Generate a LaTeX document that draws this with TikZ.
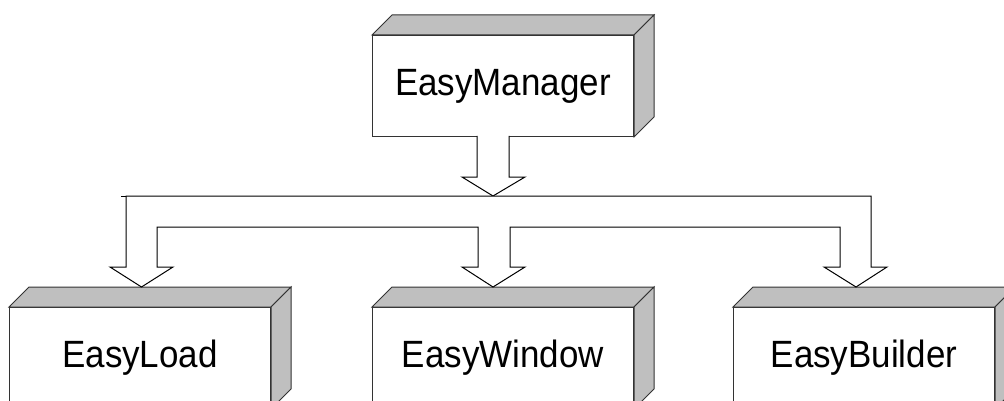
\documentclass[tikz,border=0pt]{standalone}
\usepackage{fontspec}
\setmainfont{Liberation Sans}
\usetikzlibrary{calc}
\tikzset{
  frontbox/.style={draw=black!80, fill=white, line width=1pt, rectangle, minimum width=261pt, minimum height=101pt, inner sep=0pt, anchor=north west, font=\fontsize{38}{40}\selectfont},
  facetop/.style={draw=black!80, fill=black!25, line width=1pt, line join=miter},
  blockarrow/.style={draw=black, fill=white, line width=1pt, line join=miter},
}
\newcommand{\threed}[1]{%
  \filldraw[facetop] (#1.north west) -- ++(20,-20) -- ($(#1.north east)+(20,-20)$) -- (#1.north east) -- cycle;
  \filldraw[facetop] (#1.north east) -- ++(20,-20) -- ($(#1.south east)+(20,-20)$) -- (#1.south east) -- cycle;
}
\newcommand{\lbl}[1]{\scalebox{0.92}[1]{#1}}
\begin{document}
\begin{tikzpicture}[x=1pt,y=-1pt]
\useasboundingbox (0,0) rectangle (1004,401);
\clip (0,0) rectangle (1004,401);
\node[frontbox] (mgr) at (372,35) {\lbl{EasyManager}};
\node[frontbox] (load) at (9,307) {\lbl{EasyLoad}};
\node[frontbox] (win) at (372,307) {\lbl{EasyWindow}};
\node[frontbox] (bld) at (733,307) {\lbl{EasyBuilder}};
\threed{mgr}
\threed{load}
\threed{win}
\threed{bld}
% arrow from manager to bus
\coordinate (t0) at (mgr.south west);
\filldraw[blockarrow] (477,136) -- (477,177) -- (462,177) -- (493,196) -- (525,177) -- (509,177) -- (509,136);
% bus arrow to the three boxes
\filldraw[blockarrow] (126,196) -- (871,196) -- (871,267) -- (887,267) -- (856,287) -- (824,267) -- (840,267)
  -- (840,227) -- (510,227) -- (510,267) -- (525,267) -- (493,287) -- (462,267) -- (478,267)
  -- (478,227) -- (157,227) -- (157,267) -- (173,267) -- (141.5,287) -- (110,267) -- (126,267) -- cycle;
\draw[line width=1pt] (121,196) -- (126,196);
\end{tikzpicture}
\end{document}
